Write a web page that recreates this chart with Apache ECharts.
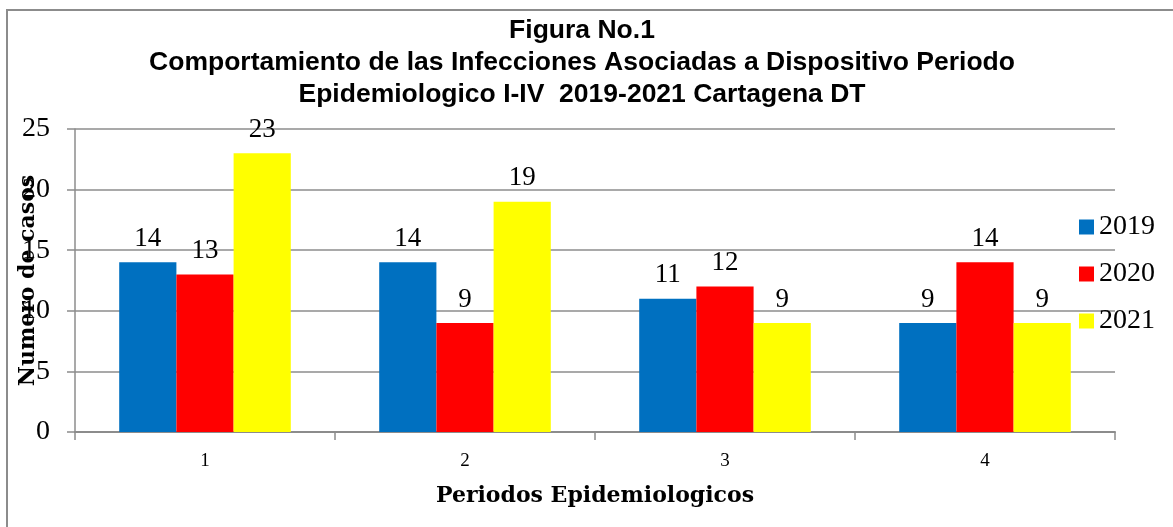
<!DOCTYPE html>
<html><head><meta charset="utf-8">
<script src="https://cdn.jsdelivr.net/npm/echarts@6/dist/echarts.min.js"></script>
<style>html,body{margin:0;padding:0;background:#fff;}#c{width:1173px;height:527px;}</style>
</head><body><div id="c"></div>
<script>
const categories = ['1', '2', '3', '4'];
const seriesNames = ['2019', '2020', '2021'];
const v2019 = [14, 14, 11, 9];
const v2020 = [13, 9, 12, 14];
const v2021 = [23, 19, 9, 9];
const colors = ['#0070C0', '#FF0000', '#FFFF00'];
const yTicks = [0, 5, 10, 15, 20, 25];
const titleText = 'Figura No.1\nComportamiento de las Infecciones Asociadas a Dispositivo Periodo\nEpidemiologico I-IV  2019-2021 Cartagena DT';

const serif = '"Liberation Serif", "DejaVu Serif", serif';
const boldSerif = '"DejaVu Serif", "Liberation Serif", serif';
const chart = echarts.init(document.getElementById('c'), null, {renderer: 'canvas'});
const data = [v2019, v2020, v2021];
chart.setOption({
  animation: false,
  graphic: [{type: 'rect', shape: {x: 7, y: 10, width: 1180, height: 530}, style: {fill: 'none', stroke: '#8c8c8c', lineWidth: 2}, z: 0}],
  title: {
    text: titleText, left: 577, textAlign: 'center', top: 10,
    textStyle: {fontFamily: '"Liberation Sans", Arial, sans-serif', fontWeight: 'bold', fontSize: 26.5, lineHeight: 32, color: '#000'}
  },
  legend: {
    orient: 'vertical', left: 1079, top: 213, padding: 0, itemWidth: 15, itemHeight: 15, itemGap: 19,
    icon: 'rect',
    textStyle: {fontFamily: serif, fontSize: 28, lineHeight: 28, color: '#000'},
    data: seriesNames
  },
  grid: {left: 75, right: 58, top: 129, bottom: 95, containLabel: false, outerBoundsMode: 'none'},
  xAxis: {
    type: 'category', data: categories,
    axisLine: {lineStyle: {color: '#8c8c8c', width: 2}},
    axisTick: {show: true, length: 8, lineStyle: {color: '#8c8c8c', width: 1.5}},
    axisLabel: {fontFamily: serif, fontSize: 19, color: '#000', margin: 20},
    name: 'Periodos Epidemiologicos', nameLocation: 'middle', nameGap: 53, nameMoveOverlap: false,
    nameTextStyle: {fontFamily: boldSerif, fontWeight: 'bold', fontSize: 22, color: '#000'}
  },
  yAxis: {
    type: 'value', min: yTicks[0], max: yTicks[yTicks.length - 1], interval: 5,
    axisLine: {show: true, lineStyle: {color: '#8c8c8c', width: 1.5}},
    axisTick: {show: true, length: 8, lineStyle: {color: '#8c8c8c', width: 1.5}},
    axisLabel: {fontFamily: serif, fontSize: 28, color: '#000', margin: 25},
    splitLine: {lineStyle: {color: '#8c8c8c', width: 1.5}},
    name: 'Numero de casos', nameLocation: 'middle', nameGap: 36, nameRotate: 90, nameMoveOverlap: false,
    nameTextStyle: {fontFamily: boldSerif, fontWeight: 'bold', fontSize: 22, color: '#000'}
  },
  series: seriesNames.map((n, i) => ({
    name: n, type: 'bar', data: data[i], barGap: '0%', barCategoryGap: '34%',
    itemStyle: {color: colors[i]},
    label: {show: true, position: 'top', distance: 10, fontFamily: serif, fontSize: 27, color: '#000'}
  }))
});
</script></body></html>
